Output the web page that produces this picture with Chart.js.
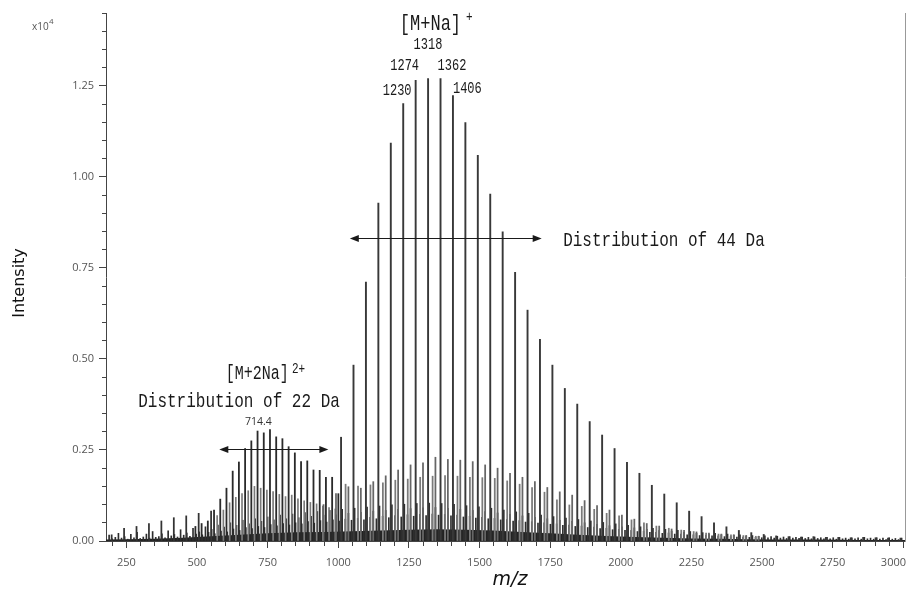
<!DOCTYPE html>
<html>
<head>
<meta charset="utf-8">
<script src="https://cdn.jsdelivr.net/npm/chart.js@4.4.1/dist/chart.umd.min.js"></script>
<style>
  html, body { margin: 0; padding: 0; background: #fff; }
  canvas { display: block; }
</style>
</head>
<body>
<canvas id="spectrum" width="910" height="589"></canvas>
<script>
// intensities are in units of 10^4

// [M+Na]+ series, 44 Da apart
const naMz = [1010, 1054, 1098, 1142, 1186, 1230, 1274, 1318, 1362, 1406, 1450, 1494, 1538, 1582, 1626, 1670,
  1714, 1758, 1802, 1846, 1890, 1934, 1978, 2022, 2066, 2110, 2154, 2198, 2242, 2286, 2330, 2374,
  2418, 2462, 2506, 2550, 2594, 2638, 2682, 2726, 2770, 2814, 2858, 2902, 2946, 2990];
const naInt = [0.285, 0.483, 0.711, 0.928, 1.093, 1.201, 1.265, 1.270, 1.270, 1.223, 1.149, 1.059, 0.953, 0.849, 0.738, 0.634,
  0.554, 0.483, 0.419, 0.376, 0.328, 0.291, 0.254, 0.216, 0.186, 0.153, 0.129, 0.105, 0.082, 0.067, 0.050, 0.039,
  0.029, 0.023, 0.018, 0.014, 0.012, 0.011, 0.012, 0.010, 0.010, 0.009, 0.010, 0.009, 0.008, 0.008];

// [M+2Na]2+ series, 22 Da apart
const dimerMz = [494.4, 516.4, 538.4, 560.4, 582.4, 604.4, 626.4, 648.4, 670.4, 692.4, 714.4, 736.4,
  758.4, 780.4, 802.4, 824.4, 846.4, 868.4, 890.4, 912.4, 934.4, 956.4, 978.4, 1000.4];
const dimerInt = [0.040, 0.048, 0.055, 0.085, 0.115, 0.145, 0.192, 0.217, 0.254, 0.275, 0.302, 0.297,
  0.306, 0.286, 0.281, 0.259, 0.242, 0.218, 0.220, 0.195, 0.194, 0.175, 0.175, 0.130];

// weaker doubly charged companions
const dimerSideMz = [571.4, 593.4, 615.4, 637.4, 659.4, 681.4, 703.4, 725.4, 747.4, 769.4,
  791.4, 813.4, 835.4, 857.4, 879.4, 901.4, 923.4, 945.4, 967.4, 989.4];
const dimerSideInt = [0.070, 0.085, 0.105, 0.120, 0.130, 0.138, 0.150, 0.145, 0.140, 0.136,
  0.128, 0.122, 0.126, 0.116, 0.110, 0.106, 0.102, 0.096, 0.092, 0.088];

// low mass series
const lowMz = [198, 242, 286, 330, 374, 418, 462, 506, 550];
const lowInt = [0.017, 0.035, 0.040, 0.048, 0.055, 0.064, 0.069, 0.076, 0.082];

// side series next to the main peaks (about -18 and +16 Da)
const sideAMz = [948, 992, 1036, 1080, 1124, 1168, 1212, 1256, 1300, 1344, 1388, 1432, 1476, 1520, 1564, 1608,
  1652, 1696, 1740, 1784, 1828, 1872, 1916, 1960, 2004, 2048, 2092, 2136, 2180, 2224, 2268, 2312,
  2356, 2400, 2444, 2488];
const sideAInt = [0.100, 0.130, 0.149, 0.145, 0.163, 0.179, 0.195, 0.209, 0.215, 0.230, 0.224, 0.222, 0.218, 0.209, 0.200, 0.186,
  0.175, 0.163, 0.147, 0.135, 0.126, 0.111, 0.097, 0.085, 0.071, 0.060, 0.048, 0.041, 0.033, 0.029, 0.025, 0.022,
  0.019, 0.017, 0.015, 0.013];
const sideBMz = [1026, 1070, 1114, 1158, 1202, 1246, 1290, 1334, 1378, 1422, 1466, 1510, 1554, 1598, 1642, 1686,
  1730, 1774, 1818, 1862, 1906, 1950, 1994, 2038, 2082, 2126, 2170, 2214, 2258, 2302, 2346, 2390,
  2434, 2478];
const sideBInt = [0.156, 0.151, 0.154, 0.160, 0.167, 0.170, 0.175, 0.178, 0.180, 0.178, 0.175, 0.174, 0.172, 0.165, 0.156, 0.147,
  0.134, 0.113, 0.099, 0.095, 0.087, 0.076, 0.069, 0.058, 0.050, 0.041, 0.035, 0.030, 0.026, 0.022, 0.019, 0.017,
  0.015, 0.013];

// grass of small peaks, one every 11 Da from 189
const grassStart = 189;
const grassStep = 11;
const grassInt = [
  0.016, 0.006, 0.010, 0.021, 0.008, 0.012, 0.005, 0.018, 0.009, 0.024, 0.007, 0.011, 0.019, 0.008, 0.026, 0.010,
  0.012, 0.020, 0.009, 0.028, 0.014, 0.018, 0.011, 0.031, 0.016, 0.022, 0.013, 0.035, 0.019, 0.025, 0.017, 0.039,
  0.024, 0.032, 0.020, 0.044, 0.027, 0.038, 0.025, 0.050, 0.033, 0.043, 0.029, 0.057, 0.037, 0.047, 0.034, 0.061,
  0.040, 0.054, 0.037, 0.066, 0.045, 0.058, 0.042, 0.071, 0.048, 0.061, 0.044, 0.074, 0.050, 0.064, 0.047, 0.078,
  0.053, 0.068, 0.049, 0.081, 0.056, 0.071, 0.052, 0.084, 0.058, 0.072, 0.055, 0.087, 0.060, 0.076, 0.057, 0.090,
  0.062, 0.079, 0.058, 0.093, 0.065, 0.082, 0.061, 0.096, 0.068, 0.084, 0.064, 0.099, 0.070, 0.087, 0.066, 0.101,
  0.072, 0.089, 0.068, 0.103, 0.073, 0.091, 0.070, 0.104, 0.074, 0.092, 0.071, 0.103, 0.073, 0.090, 0.069, 0.101,
  0.071, 0.087, 0.066, 0.097, 0.068, 0.084, 0.063, 0.094, 0.065, 0.081, 0.061, 0.090, 0.062, 0.077, 0.058, 0.085,
  0.059, 0.073, 0.055, 0.080, 0.056, 0.069, 0.052, 0.076, 0.053, 0.065, 0.049, 0.071, 0.050, 0.061, 0.046, 0.067,
  0.047, 0.057, 0.043, 0.063, 0.044, 0.054, 0.040, 0.059, 0.041, 0.050, 0.037, 0.055, 0.038, 0.046, 0.034, 0.051,
  0.035, 0.042, 0.031, 0.047, 0.032, 0.039, 0.029, 0.043, 0.029, 0.036, 0.026, 0.039, 0.027, 0.032, 0.024, 0.035,
  0.024, 0.029, 0.021, 0.032, 0.022, 0.027, 0.019, 0.029, 0.019, 0.024, 0.017, 0.026, 0.017, 0.021, 0.015, 0.023,
  0.016, 0.019, 0.014, 0.021, 0.014, 0.017, 0.012, 0.019, 0.012, 0.016, 0.011, 0.017, 0.011, 0.014, 0.010, 0.015,
  0.010, 0.013, 0.009, 0.014, 0.009, 0.012, 0.008, 0.013, 0.008, 0.011, 0.007, 0.012, 0.008, 0.010, 0.007, 0.011,
  0.007, 0.010, 0.006, 0.011, 0.007, 0.009, 0.006, 0.010, 0.006, 0.009, 0.005, 0.010, 0.006, 0.008, 0.005, 0.009,
  0.006, 0.009, 0.005, 0.010, 0.006, 0.008, 0.005, 0.009, 0.005, 0.008, 0.004, 0.009, 0.005, 0.007, 0.004, 0.008];
const grassMz = grassInt.map((_, i) => grassStart + i * grassStep);

// dense baseline band
const baseMz = [178, 250, 350, 450, 550, 650, 750, 850, 950, 1050, 1150, 1250, 1350, 1450, 1550, 1650,
  1750, 1850, 1950, 2050, 2150, 2250, 2350, 2450, 2550, 2700, 2850, 3006];
const baseLevel = [0.004, 0.005, 0.006, 0.009, 0.013, 0.017, 0.021, 0.024, 0.025, 0.027, 0.029, 0.031, 0.032, 0.031, 0.029, 0.025,
  0.021, 0.017, 0.014, 0.011, 0.009, 0.007, 0.006, 0.005, 0.004, 0.004, 0.003, 0.003];

const toPoints = (mz, inten) => mz.map((m, i) => ({ x: m, y: inten[i] }));

//one dataset of vertical sticks, all share one stack so they sit on their m/z
const sticks = (mz, inten, color, width) => ({
  type: "bar",
  data: toPoints(mz, inten),
  backgroundColor: color,
  borderWidth: 0,
  stack: "peaks",
  barThickness: width,
});

const isMajorX = (c) => !c.tick || c.tick.value % 250 === 0;
const isMajorY = (c) => !c.tick || Math.round(c.tick.value * 100) % 25 === 0;

const tickPad = 8;

//texts and arrows on top of the plot
const annotations = {
  id: "annotations",
  afterDraw(chart) {
    const ctx = chart.ctx;
    const xs = chart.scales.x;
    const ys = chart.scales.y;
    const area = chart.chartArea;
    const px = (v) => xs.getPixelForValue(v);
    const py = (v) => ys.getPixelForValue(v);

    // tall narrow text, close to the gothic font of the original
    const tall = (text, mz, inten, size, align) => {
      ctx.save();
      ctx.translate(px(mz), py(inten));
      ctx.scale(1, 1.3);
      ctx.font = size + "px 'Liberation Mono'";
      ctx.textAlign = align;
      ctx.textBaseline = "alphabetic";
      ctx.fillStyle = "#1a1a1a";
      ctx.fillText(text, 0, 0);
      ctx.restore();
    };

    const doubleArrow = (m1, m2, inten) => {
      const x1 = px(m1);
      const x2 = px(m2);
      const yy = Math.round(py(inten)) + 0.5;
      ctx.save();
      ctx.strokeStyle = "#1a1a1a";
      ctx.fillStyle = "#1a1a1a";
      ctx.lineWidth = 1;
      ctx.beginPath();
      ctx.moveTo(x1 + 4, yy);
      ctx.lineTo(x2 - 4, yy);
      ctx.stroke();
      ctx.beginPath();
      ctx.moveTo(x1, yy);
      ctx.lineTo(x1 + 9, yy - 3.5);
      ctx.lineTo(x1 + 9, yy + 3.5);
      ctx.closePath();
      ctx.fill();
      ctx.beginPath();
      ctx.moveTo(x2, yy);
      ctx.lineTo(x2 - 9, yy - 3.5);
      ctx.lineTo(x2 - 9, yy + 3.5);
      ctx.closePath();
      ctx.fill();
      ctx.restore();
    };

    // [M+Na]+ labels
    tall("[M+Na]", 1218, 1.404, 17, "left");
    tall("+", 1452, 1.427, 11, "left");
    tall("1318", 1317.5, 1.350, 12, "center");
    tall("1274", 1235, 1.293, 12, "center");
    tall("1362", 1402.5, 1.293, 12, "center");
    tall("1230", 1208.5, 1.224, 12, "center");
    tall("1406", 1457, 1.231, 12, "center");
    doubleArrow(1041, 1720, 0.831);
    tall("Distribution of 44 Da", 1796, 0.810, 16, "left");

    // [M+2Na]2+ labels
    tall("[M+2Na]", 602, 0.445, 15, "left");
    tall("2+", 836, 0.462, 11, "left");
    tall("Distribution of 22 Da", 292, 0.368, 16, "left");
    doubleArrow(579, 965, 0.252);
    ctx.save();
    ctx.font = "10.5px 'Open Sans'";
    ctx.fillStyle = "#333";
    ctx.textAlign = "center";
    ctx.fillText("714.4", px(717), py(0.318));
    ctx.restore();

    // exponent, axis titles, last tick label pulled inside the frame
    ctx.save();
    ctx.fillStyle = "#555";
    ctx.font = "10px 'Open Sans'";
    ctx.textAlign = "left";
    ctx.fillText("x10", area.left - 74, 30);
    ctx.font = "8px 'Open Sans'";
    ctx.fillText("4", area.left - 57, 24);
    ctx.font = "11px 'Open Sans'";
    ctx.textAlign = "right";
    ctx.textBaseline = "middle";
    ctx.fillText("3000", area.right + 1, area.bottom + 7 + tickPad + 6.6);

    ctx.fillStyle = "#111";
    ctx.textAlign = "center";
    ctx.textBaseline = "alphabetic";
    ctx.font = "italic 19px 'DejaVu Sans'";
    ctx.fillText("m/z", 510, 585);
    ctx.translate(24, 283);
    ctx.rotate(-Math.PI / 2);
    ctx.font = "16px 'DejaVu Sans'";
    ctx.fillText("Intensity", 0, 0);
    ctx.restore();
  },
};

new Chart(document.getElementById("spectrum"), {
  type: "bar",
  plugins: [annotations],
  data: {
    datasets: [
      sticks(naMz, naInt, "#383838", 1.25),
      sticks(dimerMz, dimerInt, "#2a2a2a", 1.15),
      sticks(lowMz, lowInt, "#333333", 1.1),
      sticks(sideAMz, sideAInt, "#666666", 1.1),
      sticks(sideBMz, sideBInt, "#7a7a7a", 1.1),
      sticks(dimerSideMz, dimerSideInt, "#7a7a7a", 1),
      sticks(grassMz, grassInt, "#2e2e2e", 1),
      {
        type: "line",
        data: toPoints(baseMz, baseLevel),
        fill: "origin",
        backgroundColor: "#222222",
        borderWidth: 0,
        pointRadius: 0,
        tension: 0,
      },
    ],
  },
  options: {
    responsive: false,
    animation: false,
    events: [],
    layout: { padding: { top: 13, right: 5, left: 0, bottom: 0 } },
    plugins: {
      legend: { display: false },
      tooltip: { enabled: false },
    },
    scales: {
      x: {
        type: "linear",
        min: 178,
        max: 3006,
        offset: false,
        border: { color: "#444" },
        grid: {
          drawOnChartArea: false,
          offset: false,
          tickLength: 7,
          tickColor: "#444",
          tickBorderDash: (c) => (isMajorX(c) ? [] : [4, 20]),
        },
        ticks: {
          stepSize: 50,
          autoSkip: false,
          maxRotation: 0,
          includeBounds: false,
          padding: tickPad,
          color: "#555",
          font: { family: "'Open Sans'", size: 11 },
          callback: (v) => (v % 250 === 0 && v !== 3000 ? String(v) : ""),
        },
        afterFit: (s) => {
          s.height = 48;
          s.paddingLeft = 0;
          s.paddingRight = 0;
        },
      },
      y: {
        type: "linear",
        min: 0,
        max: 1.45,
        stacked: false,
        border: { color: "#444" },
        grid: {
          drawOnChartArea: false,
          tickLength: 7,
          tickColor: "#444",
          tickBorderDash: (c) => (isMajorY(c) ? [] : [0, 3, 4, 20]),
        },
        ticks: {
          stepSize: 0.05,
          autoSkip: false,
          padding: 5,
          color: "#555",
          font: { family: "'Open Sans'", size: 11 },
          callback: (v) => {
            const k = Math.round(v * 100);
            return k % 25 === 0 ? (k / 100).toFixed(2) : "";
          },
        },
        afterFit: (s) => {
          s.width = 106;
        },
      },
      y2: {
        type: "linear",
        position: "right",
        min: 0,
        max: 1,
        border: { color: "#999" },
        grid: { drawOnChartArea: false, drawTicks: false },
        ticks: { display: false },
        afterFit: (s) => {
          s.width = 0;
        },
      },
    },
  },
});
</script>
</body>
</html>
